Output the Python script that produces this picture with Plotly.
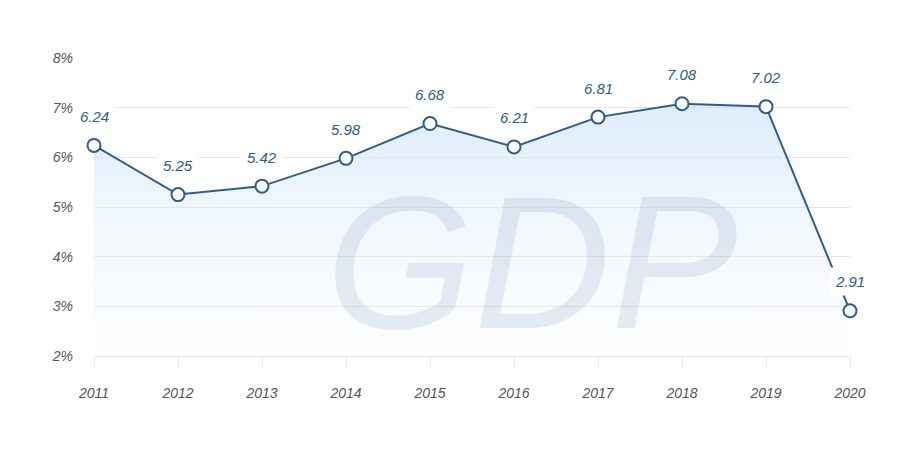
import plotly.graph_objects as go

years = [2011, 2012, 2013, 2014, 2015, 2016, 2017, 2018, 2019, 2020]
gdp = [6.24, 5.25, 5.42, 5.98, 6.68, 6.21, 6.81, 7.08, 7.02, 2.91]
yticks = [2, 3, 4, 5, 6, 7, 8]

line_col = "#2c5d8f"
fig = go.Figure()
fig.add_trace(go.Scatter(
    x=years, y=gdp, mode="lines+markers", fill="tozeroy", cliponaxis=False,
    fillgradient=dict(type="vertical", colorscale=[[0, "rgba(255,255,255,0)"], [1, "rgba(200,225,250,0.6)"]]),
    line=dict(color=line_col, width=2),
    marker=dict(size=13, color="white", line=dict(color=line_col, width=2)),
    hoverinfo="skip"))

for x, y in zip(years, gdp):
    fig.add_annotation(x=x, y=y, text=f"<i>{y:.2f}</i>", showarrow=False, yshift=29,
                       bgcolor="white", borderpad=5,
                       font=dict(family="Liberation Sans", size=15, color=line_col))

fig.add_annotation(x=0.5, y=0.5, xref="paper", yref="paper", yshift=-55, xshift=60,
                   text="<i>GDP</i>", showarrow=False,
                   font=dict(family="Liberation Sans", size=190, color="rgba(40,80,130,0.1)"))

fig.update_layout(
    width=916, height=456, paper_bgcolor="white", plot_bgcolor="white",
    margin=dict(l=86, r=74, t=50, b=108), showlegend=False,
    xaxis=dict(range=[2011, 2020], tickvals=years, ticktext=[f"<i>{y}</i>" for y in years],
               showgrid=False, zeroline=False, showline=True, linecolor="#e6e6e6",
               ticks="outside", ticklen=10, tickcolor="#e6e6e6",
               tickfont=dict(family="Liberation Sans", size=14, color="#555"), ticklabelstandoff=14),
    yaxis=dict(range=[2, 8], tickvals=yticks, ticktext=[f"<i>{v}%</i>" for v in yticks],
               showgrid=True, gridcolor="#e6e6e6", zeroline=False,
               tickfont=dict(family="Liberation Sans", size=14, color="#555"), ticklabelstandoff=20),
)
fig.write_html("out.html")
